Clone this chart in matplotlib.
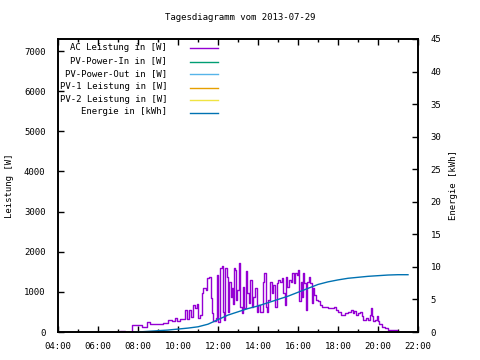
import matplotlib
matplotlib.use("Agg")
import matplotlib.pyplot as plt

# ---- data ----
power_t = [6.43, 7.10, 7.35, 7.68, 7.85, 8.18, 8.43, 8.60, 8.93, 9.27, 9.52, 9.68, 9.85, 9.93,
           10.10, 10.35, 10.47, 10.57, 10.63, 10.73, 10.85, 10.93, 11.02, 11.10, 11.18, 11.27,
           11.40, 11.43, 11.47, 11.57, 11.63, 11.68, 11.77, 11.90, 11.97, 12.02, 12.10, 12.18,
           12.23, 12.30, 12.35, 12.43, 12.48, 12.57, 12.63, 12.68, 12.73, 12.80, 12.85, 12.90,
           12.97, 13.07, 13.10, 13.18, 13.27, 13.32, 13.40, 13.47, 13.55, 13.60, 13.68, 13.77,
           13.85, 13.93, 14.02, 14.10, 14.23, 14.32, 14.38, 14.43, 14.52, 14.60, 14.68, 14.77,
           14.85, 14.93, 15.02, 15.10, 15.18, 15.27, 15.35, 15.40, 15.47, 15.57, 15.63, 15.72,
           15.80, 15.85, 15.93, 16.02, 16.07, 16.13, 16.18, 16.27, 16.32, 16.40, 16.47, 16.53,
           16.60, 16.68, 16.73, 16.80, 16.90, 17.02, 17.10, 17.22, 17.35, 17.52, 17.68, 17.80,
           17.90, 18.02, 18.13, 18.27, 18.35, 18.52, 18.63, 18.73, 18.80, 18.90, 19.02, 19.10,
           19.18, 19.27, 19.40, 19.52, 19.60, 19.65, 19.70, 19.77, 19.85, 19.93, 20.02, 20.07,
           20.18, 20.35, 20.52, 20.68, 20.85, 20.93, 21.02]
power_w = [0, 20, 0, 175, 185, 130, 240, 200, 190, 230, 300, 280, 340, 270,
           320, 550, 320, 550, 380, 670, 590, 700, 340, 420, 965, 1090,
           1050, 1215, 1340, 1380, 845, 470, 275, 340, 1425, 260, 1590, 1645,
           510, 300, 1590, 1380, 510, 1255, 880, 1090, 710, 1590, 1550, 800,
           1050, 1730, 630, 465, 1130, 590, 1510, 965, 715, 1300, 630, 880,
           1090, 510, 670, 510, 1255, 1480, 630, 510, 800, 1255, 965, 1175,
           630, 1215, 1300, 1255, 1340, 965, 670, 1380, 1130, 1300, 1255, 1465,
           1215, 1465, 1425, 1550, 760, 1255, 880, 1465, 1215, 550, 1255, 1380,
           1215, 715, 1090, 920, 800, 760, 670, 630, 615, 610, 590, 615,
           550, 510, 430, 430, 465, 510, 550, 465, 525, 430, 465, 510,
           390, 310, 350, 310, 430, 590, 390, 270, 310, 390, 270, 190,
           130, 90, 60, 45, 45, 20, 0]

energy_t = [7.85, 8.0, 8.5, 9.0, 9.5, 10.0, 10.5, 11.0, 11.5, 12.0, 12.5, 13.0, 13.5, 14.0,
            14.5, 15.0, 15.5, 16.0, 16.5, 17.0, 17.5, 18.0, 18.5, 19.0, 19.5, 20.0, 20.5,
            21.0, 21.5]
energy_kwh = [0, 0, 0.1, 0.2, 0.3, 0.45, 0.6, 0.8, 1.2, 1.9, 2.6, 3.1, 3.6, 4.0,
              4.5, 5.0, 5.5, 6.1, 6.7, 7.3, 7.7, 8.0, 8.25, 8.4, 8.55, 8.65, 8.75,
              8.8, 8.8]

series_names = ["AC Leistung in [W]", "PV-Power-In in [W]", "PV-Power-Out in [W]",
                "PV-1 Leistung in [W]", "PV-2 Leistung in [W]", "Energie in [kWh]"]
series_colors = ["#9400D3", "#009E73", "#56B4E9", "#E69F00", "#F0E442", "#0072B2"]

x_ticks = [4, 6, 8, 10, 12, 14, 16, 18, 20, 22]
x_labels = ["04:00", "06:00", "08:00", "10:00", "12:00", "14:00", "16:00", "18:00", "20:00", "22:00"]
y_ticks = [0, 1000, 2000, 3000, 4000, 5000, 6000, 7000]
y2_ticks = [0, 5, 10, 15, 20, 25, 30, 35, 40, 45]

title = "Tagesdiagramm vom 2013-07-29"

# ---- plot ----
plt.rcParams['font.family'] = ['DejaVu Sans Mono']
FS = 6.5
W, H = 480, 360
fig = plt.figure(figsize=(4.8, 3.6), dpi=100)
L, R, T, B = 58, 418, 39, 332
ax = fig.add_axes([L / W, 1 - B / H, (R - L) / W, (B - T) / H])
ax2 = ax.twinx()

ax.plot(power_t, power_w, color=series_colors[0], lw=1.0, drawstyle="steps-post")
ax2.plot(energy_t, energy_kwh, color=series_colors[5], lw=1.0)

ax.set_xlim(4, 22)
ax.set_ylim(0, 7300)
ax2.set_ylim(0, 45)

ax.set_xticks(x_ticks)
ax.set_xticklabels(x_labels, fontsize=FS)
ax.set_xticks(list(range(5, 22, 2)), minor=True)
ax.set_yticks(y_ticks)
ax.set_yticklabels([str(v) for v in y_ticks], fontsize=FS)
ax2.set_yticks(y2_ticks)
ax2.set_yticklabels([str(v) for v in y2_ticks], fontsize=FS)

ax.tick_params(axis='x', which='major', direction='in', length=4, width=1, top=True, pad=7)
ax.tick_params(axis='x', which='minor', direction='in', length=2.5, width=1, top=True)
ax.tick_params(axis='y', which='major', direction='in', length=4, width=1, right=False, pad=9)
ax2.tick_params(axis='y', direction='in', length=4, width=1, pad=9)

for a in (ax, ax2):
    for s in a.spines.values():
        s.set_linewidth(1.2)
        s.set_color("black")

ax.set_ylabel("Leistung [W]", fontsize=FS)
ax.yaxis.set_label_coords((14 - L) / (R - L), 0.5)
ax2.set_ylabel("Energie [kWh]", fontsize=FS, rotation=90)
ax2.yaxis.set_label_coords((449 - L) / (R - L), 0.5)

fig.text(240 / W, 1 - 18 / H, title, ha="center", va="center", fontsize=FS)

# legend (gnuplot style: right-aligned text, sample line on the right)
rows_y = [47.3, 60.7, 73.3, 86.7, 99.3, 111.7]
for name, col, yy in zip(series_names, series_colors, rows_y):
    fig.text(167 / W, 1 - yy / H, name, ha="right", va="center", fontsize=FS)
    fig.add_artist(plt.Line2D([190 / W, 218 / W], [1 - (yy + 1) / H, 1 - (yy + 1) / H],
                              color=col, lw=1.0, transform=fig.transFigure))

fig.savefig("out.png", dpi=100)
